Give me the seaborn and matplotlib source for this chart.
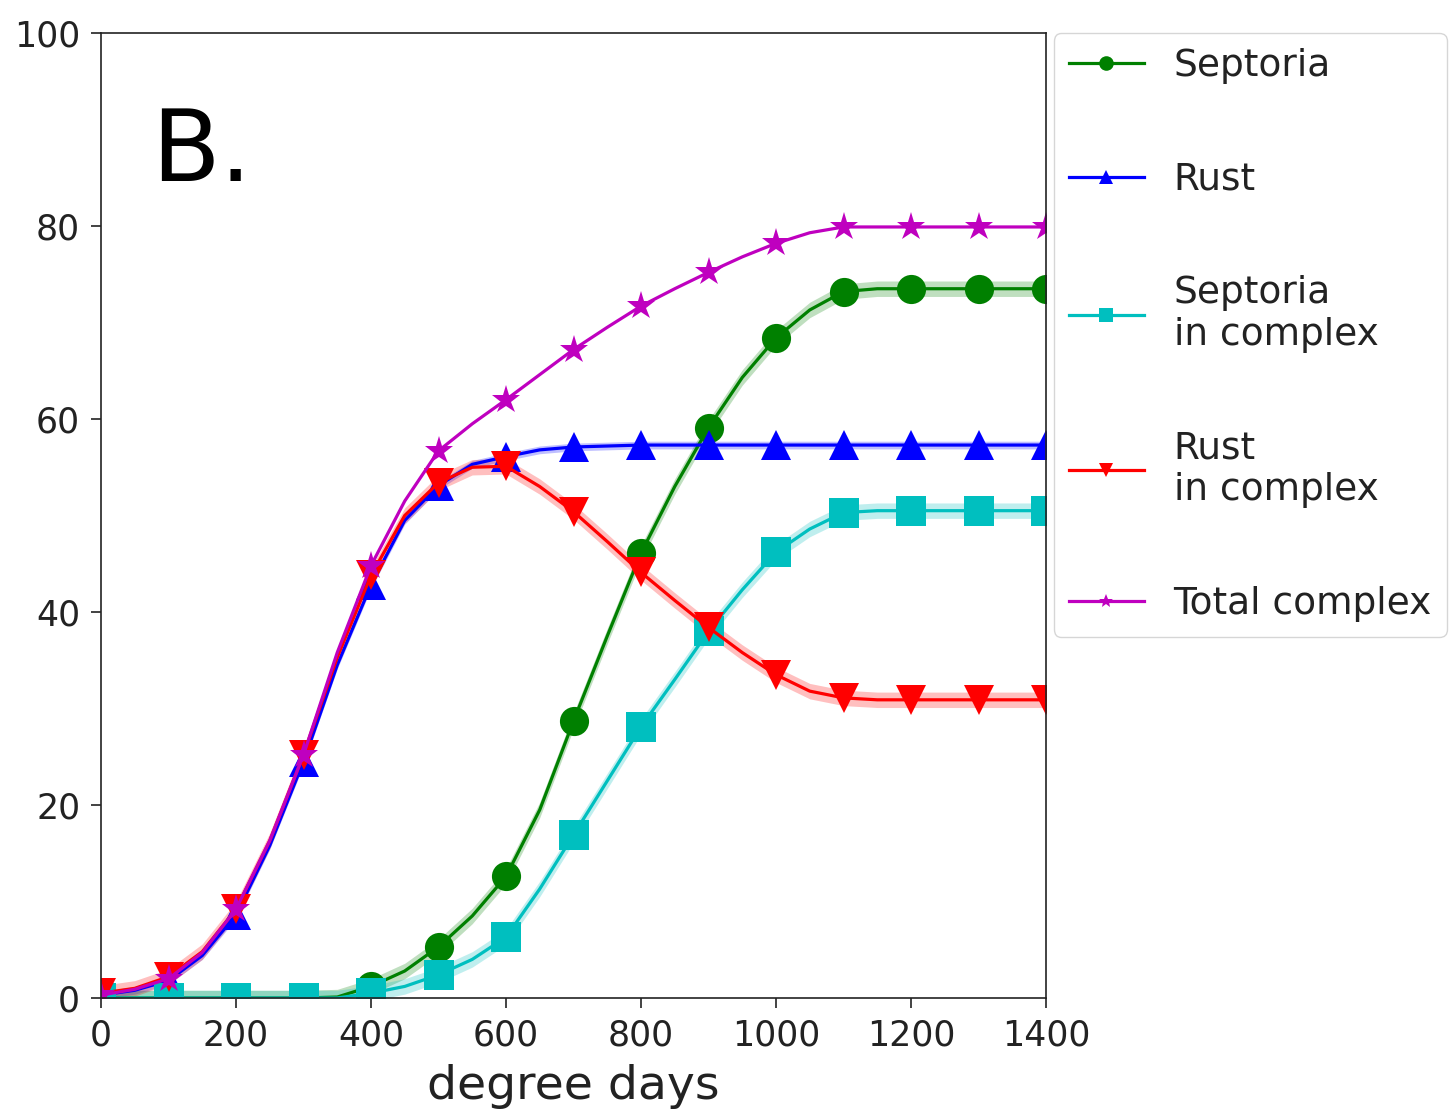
import matplotlib
matplotlib.use("Agg")
import matplotlib.pyplot as plt
import seaborn as sns
import numpy as np
import pandas as pd

degree_days = [0, 50, 100, 150, 200, 250, 300, 350, 400, 450, 500, 550, 600, 650, 700,
               750, 800, 850, 900, 950, 1000, 1050, 1100, 1150, 1200, 1250, 1300, 1350, 1400]

septoria = [0, 0, 0, 0, 0, 0, 0, 0.1, 1.2, 2.8, 5.3, 8.5, 12.6, 19.5, 28.7,
            37.5, 46.1, 53.0, 59.1, 64.3, 68.4, 71.3, 73.2, 73.5, 73.5, 73.5, 73.5, 73.5, 73.5]
rust = [0.3, 0.8, 1.8, 4.4, 8.6, 15.8, 24.5, 34.5, 42.8, 49.5, 53.1, 55.3, 56.1, 56.8, 57.1,
        57.2, 57.3, 57.3, 57.3, 57.3, 57.3, 57.3, 57.3, 57.3, 57.3, 57.3, 57.3, 57.3, 57.3]
septoria_complex = [0, 0, 0, 0, 0, 0, 0, 0, 0.5, 1.2, 2.4, 4.0, 6.3, 11.3, 16.9,
                    22.5, 28.1, 33.0, 38.0, 42.3, 46.2, 48.6, 50.3, 50.5, 50.5, 50.5, 50.5, 50.5, 50.5]
rust_complex = [0.5, 1.0, 2.2, 4.8, 9.2, 16.3, 25.2, 35.3, 43.8, 50.0, 53.4, 55.0, 55.1, 53.0, 50.4,
                47.3, 44.1, 41.2, 38.4, 35.8, 33.5, 31.8, 31.1, 30.9, 30.9, 30.9, 30.9, 30.9, 30.9]
total_complex = [0.3, 0.9, 2.0, 4.7, 9.2, 16.3, 25.2, 35.8, 44.8, 51.5, 56.7, 59.5, 62.0, 64.6, 67.2,
                 69.5, 71.7, 73.5, 75.2, 76.8, 78.2, 79.3, 79.9, 79.9, 79.9, 79.9, 79.9, 79.9, 79.9]

labels = ["Septoria", "Rust", "Septoria\nin complex", "Rust\nin complex", "Total complex"]
series = [septoria, rust, septoria_complex, rust_complex, total_complex]
band_halfwidth = [0.8, 0.4, 0.8, 0.8, 0.0]

colors = ["green", "blue", "c", "red", "m"]
markers = ["o", "^", "s", "v", "*"]

fig = plt.figure(figsize=(14.54, 11.15), dpi=100)
ax = fig.add_axes([101 / 1454, 1 - 998 / 1115, (1046 - 101) / 1454, (998 - 33) / 1115])

x = np.array(degree_days)
for vals, lab, col, mk, hw in zip(series, labels, colors, markers, band_halfwidth):
    y = np.array(vals)
    if hw > 0:
        ax.fill_between(x, y - hw, y + hw, color=col, alpha=0.25, linewidth=0)
    df = pd.DataFrame({"x": x, "y": y})
    sns.lineplot(data=df, x="x", y="y", ax=ax, color=col, marker=mk, markevery=2,
                 markersize=21, markeredgewidth=0, linewidth=2.3, label=lab)

ax.set_xlim(0, 1400)
ax.set_ylim(0, 100)
ax.set_xticks(range(0, 1401, 200))
ax.set_yticks(range(0, 101, 20))
ax.tick_params(labelsize=25, length=7, width=1.2, colors="#222222")
ax.tick_params(axis="x", pad=8)
ax.tick_params(axis="y", pad=8)
for s in ax.spines.values():
    s.set_linewidth(1.2)
    s.set_color("#222222")
ax.set_xlabel("degree days", fontsize=34, labelpad=8, color="#222222")
ax.set_ylabel("")
ax.text(0.053, 0.925, "B.", transform=ax.transAxes, fontsize=72, va="top", ha="left")

leg = ax.legend(loc="upper left", bbox_to_anchor=(1.008, 1.0), fontsize=27,
                markerscale=0.5, labelspacing=2.07, handlelength=2.0,
                borderaxespad=0, frameon=True)
for t in leg.get_texts():
    t.set_color("#222222")

fig.savefig("out.png", dpi=100)
